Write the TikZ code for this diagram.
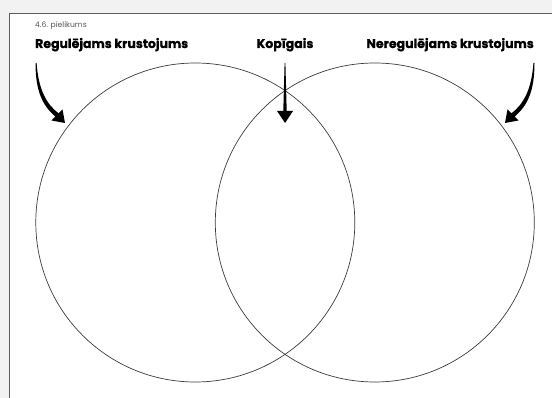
\documentclass[tikz,border=0pt]{standalone}
\usepackage{fontspec}
\setmainfont{Poppins}[BoldFont={* Bold}]
\newfontfamily\heavyfont{Poppins Bold}[FakeBold=0.7]
\definecolor{bgcol}{HTML}{F2F2F2}
\definecolor{edgecol}{HTML}{5E5E5E}
\definecolor{linecol}{HTML}{3C3C3C}
\definecolor{smallcol}{HTML}{555555}
\begin{document}
\begin{tikzpicture}[x=1pt,y=-1pt,
  title/.style={font=\heavyfont\fontsize{12.5}{14}\selectfont, text=black, inner sep=0pt, anchor=base},
  vcircle/.style={circle, draw=linecol, line width=0.7pt, minimum size=319pt, inner sep=0pt},
  arrowfill/.style={fill=black, draw=none}]
\useasboundingbox (0,0) rectangle (552,398);
\fill[bgcol] (0,0) rectangle (552,398);
\fill[white] (9,13.5) rectangle (552,398);
\draw[edgecol, line width=1pt] (9,398) -- (9,13.5) -- (552,13.5);
\node[anchor=base west, inner sep=0pt, text=smallcol, font=\fontsize{7.6}{9}\selectfont] (note) at (35,27.5) {4.6. pielikums};
\node[title, anchor=base west] (reg) at (35,48) {Regulējams krustojums};
\node[title] (kop) at (285,48) {Kopīgais};
\node[title, anchor=base east] (nereg) at (534,48) {Neregulējams krustojums};
\node[vcircle] (left) at (195.3,222.5) {};
\node[vcircle] (right) at (374.8,222.5) {};
% left curved arrow
\fill[arrowfill] (35.5,63) .. controls (35.5,92) and (43,106) .. (55.4,116.6)
  -- (51.5,120.5) -- (65,123) -- (62.5,109.5) -- (58.6,113.4)
  .. controls (46.5,104) and (38.5,90) .. (36.6,63) -- cycle;
% right curved arrow (mirror)
\fill[arrowfill] (534.5,63) .. controls (534.5,92) and (527,106) .. (514.6,116.6)
  -- (518.5,120.5) -- (505,123) -- (507.5,109.5) -- (511.4,113.4)
  .. controls (523.5,104) and (531.5,90) .. (533.4,63) -- cycle;
% middle arrow
\fill[arrowfill] (284.6,63) -- (283.3,111) -- (277,111) -- (285,123) -- (293,111) -- (286.7,111) -- (285.4,63) -- cycle;
\end{tikzpicture}
\end{document}
